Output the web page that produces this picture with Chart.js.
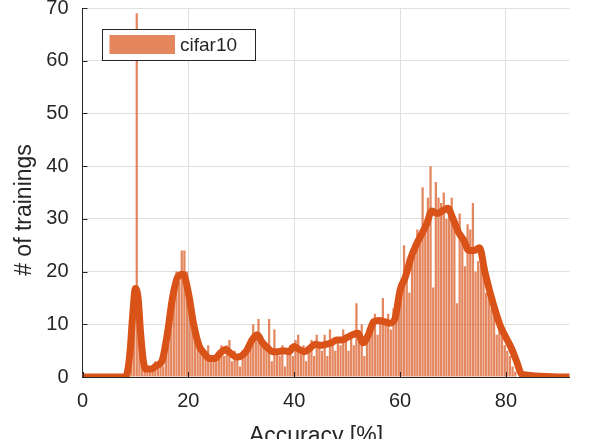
<!DOCTYPE html>
<html>
<head>
<meta charset="utf-8">
<script src="https://cdn.jsdelivr.net/npm/chart.js@4/dist/chart.umd.min.js"></script>
<style>
    html, body { margin: 0; padding: 0; background: #fff; }
    #wrap { width: 598px; height: 439px; position: relative; }
</style>
</head>
<body>
<div id="wrap"><canvas id="accuracy-chart" width="598" height="439"></canvas></div>
<script>
// histogram: 0.5% bins starting at 8.5%
const binStart = 8.5;
const binWidth = 0.5;
const counts = [
    1, 3, 10, 69, 12, 4, 2, 1, 2, 1,
    3, 2, 3, 2, 5, 8, 11, 15, 20, 18,
    24, 24, 20, 17, 12, 9, 6, 6, 5, 4,
    6, 3, 4, 3, 5, 6, 4, 6, 7, 3,
    5, 4, 2, 5, 4, 6, 7, 10, 8, 11,
    6, 7, 5, 11, 3, 9, 5, 4, 6, 2,
    5, 6, 4, 7, 8, 5, 6, 3, 5, 7,
    4, 8, 6, 5, 8, 4, 9, 6, 5, 7,
    6, 9, 7, 5, 8, 6, 14, 8, 10, 4,
    7, 9, 11, 12, 8, 11, 15, 10, 12, 9,
    13, 11, 15, 18, 25, 20, 16, 24, 23, 28,
    27, 36, 29, 34, 40, 17, 37, 34, 33, 35,
    30, 31, 34, 28, 14, 31, 27, 21, 29, 28,
    33, 20, 22, 21, 20, 16, 17, 13, 15, 8,
    11, 10, 6, 5, 4, 2, 1
];

// smoothed curve drawn over the histogram
const smoothX = [0, 8, 8.5, 9, 9.5, 10, 10.5, 11, 11.5, 12, 13, 14, 15, 16, 17, 18, 19, 20, 21, 22,
    23, 24, 25, 26, 27, 28, 29, 30, 31, 32, 33, 34, 35, 36, 37, 38, 39, 40, 41, 42,
    43, 44, 45, 46, 47, 48, 49, 50, 51, 52, 53, 54, 55, 56, 57, 58, 59, 60, 61, 62,
    63, 64, 65, 66, 67, 68, 69, 70, 71, 72, 73, 74, 75, 76, 77, 78, 79, 80, 81, 82, 83, 92];
const smoothY = [0, 0, 1, 5, 12, 16.8, 15, 8, 3, 1.5, 1.5, 2.2, 3, 8, 15, 19, 19.5, 16, 10, 6,
    4.5, 3.5, 3.5, 4.5, 5.2, 4.5, 3.8, 4, 5, 7, 8, 6.5, 5.5, 4.8, 4.8, 5, 4.8, 5.8, 5.2, 4.8,
    5.5, 6.2, 6, 6.2, 6.5, 7, 7, 7.5, 8, 8.3, 6.5, 8, 10.5, 10.7, 10.5, 10.2, 11, 16.5, 19, 22.5,
    25, 27, 29, 31.5, 31, 31.5, 32, 30, 27.5, 26, 24, 24, 24.5, 20, 16, 12.5, 9.5, 7.5, 5.5, 3,
    0.5, 0, 0];

const xTicks = [0, 20, 40, 60, 80];
const yTicks = [0, 10, 20, 30, 40, 50, 60, 70];
const seriesLabel = 'cifar10';
const xTitle = 'Accuracy [%]';
const yTitle = '# of trainings';

const barColor = 'rgba(217, 83, 25, 0.7)';
const lineColor = 'rgb(217, 83, 25)';
const axisColor = '#262626';
const fontFamily = '"Liberation Sans", Arial, Helvetica, sans-serif';

const overlay = {
    id: 'overlay',
    afterDraw(chart) {
        const { ctx, chartArea: a, scales: { x, y } } = chart;
        ctx.save();

        // inward tick marks
        ctx.strokeStyle = axisColor;
        ctx.lineWidth = 1;
        xTicks.forEach(v => {
            const px = Math.round(x.getPixelForValue(v)) + 0.5;
            ctx.beginPath();
            ctx.moveTo(px, a.bottom);
            ctx.lineTo(px, a.bottom - 5);
            ctx.stroke();
        });
        yTicks.forEach(v => {
            const py = Math.round(y.getPixelForValue(v)) + 0.5;
            ctx.beginPath();
            ctx.moveTo(a.left, py);
            ctx.lineTo(a.left + 5, py);
            ctx.stroke();
        });

        // legend
        ctx.fillStyle = '#fff';
        ctx.fillRect(102.5, 29.5, 153, 31);
        ctx.strokeStyle = axisColor;
        ctx.strokeRect(102.5, 29.5, 153, 31);
        ctx.fillStyle = barColor;
        ctx.fillRect(109.5, 35, 65.5, 19);
        ctx.fillStyle = axisColor;
        ctx.font = '19px ' + fontFamily;
        ctx.textAlign = 'left';
        ctx.textBaseline = 'middle';
        ctx.fillText(seriesLabel, 180, 46);

        // axis titles
        ctx.font = '23px ' + fontFamily;
        ctx.textAlign = 'center';
        ctx.textBaseline = 'alphabetic';
        ctx.fillText(xTitle, 316, 443);
        ctx.translate(31, 210);
        ctx.rotate(-Math.PI / 2);
        ctx.fillText(yTitle, 0, 0);

        ctx.restore();
    }
};

const ctx = document.getElementById('accuracy-chart').getContext('2d');
new Chart(ctx, {
    type: 'bar',
    data: {
        datasets: [
            {
                type: 'line',
                label: 'smoothed',
                data: smoothX.map((v, i) => ({ x: v, y: smoothY[i] })),
                borderColor: lineColor,
                borderWidth: 7,
                borderJoinStyle: 'round',
                borderCapStyle: 'round',
                pointRadius: 0,
                cubicInterpolationMode: 'monotone',
                fill: false,
                order: 0
            },
            {
                type: 'bar',
                label: seriesLabel,
                data: counts.map((c, i) => ({ x: binStart + i * binWidth + binWidth / 2, y: c })),
                backgroundColor: barColor,
                borderWidth: 0,
                barPercentage: 0.85,
                categoryPercentage: 1,
                order: 1
            }
        ]
    },
    options: {
        responsive: false,
        animation: false,
        layout: { padding: { left: 0, right: 28.5, top: 8, bottom: 0 } },
        plugins: {
            legend: { display: false },
            tooltip: { enabled: false }
        },
        scales: {
            x: {
                type: 'linear',
                offset: false,
                min: 0,
                max: 92,
                afterBuildTicks: scale => { scale.ticks = xTicks.map(v => ({ value: v })); },
                afterFit: scale => { scale.height = 62; scale.paddingLeft = 0; scale.paddingRight = 0; },
                grid: { color: '#dfdfdf', drawTicks: false, offset: false },
                border: { color: axisColor, width: 1 },
                ticks: { color: axisColor, font: { family: fontFamily, size: 20 }, padding: 12, maxRotation: 0 }
            },
            y: {
                min: 0,
                max: 70,
                afterBuildTicks: scale => { scale.ticks = yTicks.map(v => ({ value: v })); },
                afterFit: scale => { scale.width = 82.5; scale.paddingTop = 0; scale.paddingBottom = 0; },
                grid: { color: '#dfdfdf', drawTicks: false },
                border: { color: axisColor, width: 1 },
                ticks: { color: axisColor, font: { family: fontFamily, size: 20 }, padding: 14 }
            }
        }
    },
    plugins: [overlay]
});
</script>
</body>
</html>
